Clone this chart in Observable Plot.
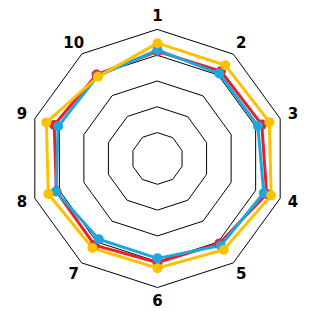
<!DOCTYPE html>
<html>
<head>
<meta charset="utf-8">
<script src="https://cdn.jsdelivr.net/npm/d3@7"></script>
<script src="https://cdn.jsdelivr.net/npm/@observablehq/plot@0.6"></script>
<style>
html, body { margin: 0; padding: 0; background: #fff; }
</style>
</head>
<body>
<div id="chart"></div>
<script>
const axesLabels = ["1", "2", "3", "4", "5", "6", "7", "8", "9", "10"];
const rings = [1, 2, 3, 4, 5];
const seriesNames = ["Series A", "Series B", "Series C"];
const seriesColors = ["#E8202A", "#1CA8DD", "#FFC000"];
const redValues = [4.15, 4.18, 4.25, 4.45, 4.07, 4.03, 4.15, 4.12, 4.21, 4.02];
const blueValues = [4.21, 4.07, 4.09, 4.33, 4.17, 3.87, 3.87, 4.14, 4.05, 3.95];
const yellowValues = [4.47, 4.47, 4.56, 4.63, 4.37, 4.25, 4.29, 4.45, 4.53, 3.92];
const labelRadius = 5.52;

const n = axesLabels.length;
const ang = i => (2 * Math.PI * i) / n;
const px = (r, i) => r * Math.sin(ang(i));
const py = (r, i) => r * Math.cos(ang(i));

const gridPts = rings.flatMap(r => axesLabels.map((a, i) => ({ring: r, x: px(r, i), y: py(r, i)})));
const allSeries = [redValues, blueValues, yellowValues];
const seriesPts = allSeries.flatMap((vals, s) => vals.map((v, i) => ({series: seriesNames[s], x: px(v, i), y: py(v, i)})));
const labelPts = axesLabels.map((a, i) => ({label: a, x: px(labelRadius, i), y: py(labelRadius, i)}));

const u = 25.8;
const cx = 157, cy = 158;

const chart = Plot.plot({
  width: 310,
  height: 311,
  margin: 0,
  style: {fontFamily: "DejaVu Sans", background: "#fff"},
  x: {domain: [-6, 6], range: [cx - 6 * u, cx + 6 * u], axis: null},
  y: {domain: [-6, 6], range: [cy + 6 * u, cy - 6 * u], axis: null},
  marks: [
    Plot.line(gridPts, {x: "x", y: "y", z: "ring", curve: "linear-closed", stroke: "#000", strokeWidth: 1}),
    ...seriesNames.map((name, s) => Plot.line(seriesPts.filter(d => d.series === name), {x: "x", y: "y", curve: "linear-closed", stroke: seriesColors[s], strokeWidth: 3})),
    ...seriesNames.map((name, s) => Plot.dot(seriesPts.filter(d => d.series === name), {x: "x", y: "y", r: 5, fill: seriesColors[s]})),
    Plot.text(labelPts, {x: "x", y: "y", text: "label", fontSize: 15, fontWeight: "bold", fill: "#000"})
  ]
});
document.getElementById("chart").appendChild(chart);
</script>
</body>
</html>
